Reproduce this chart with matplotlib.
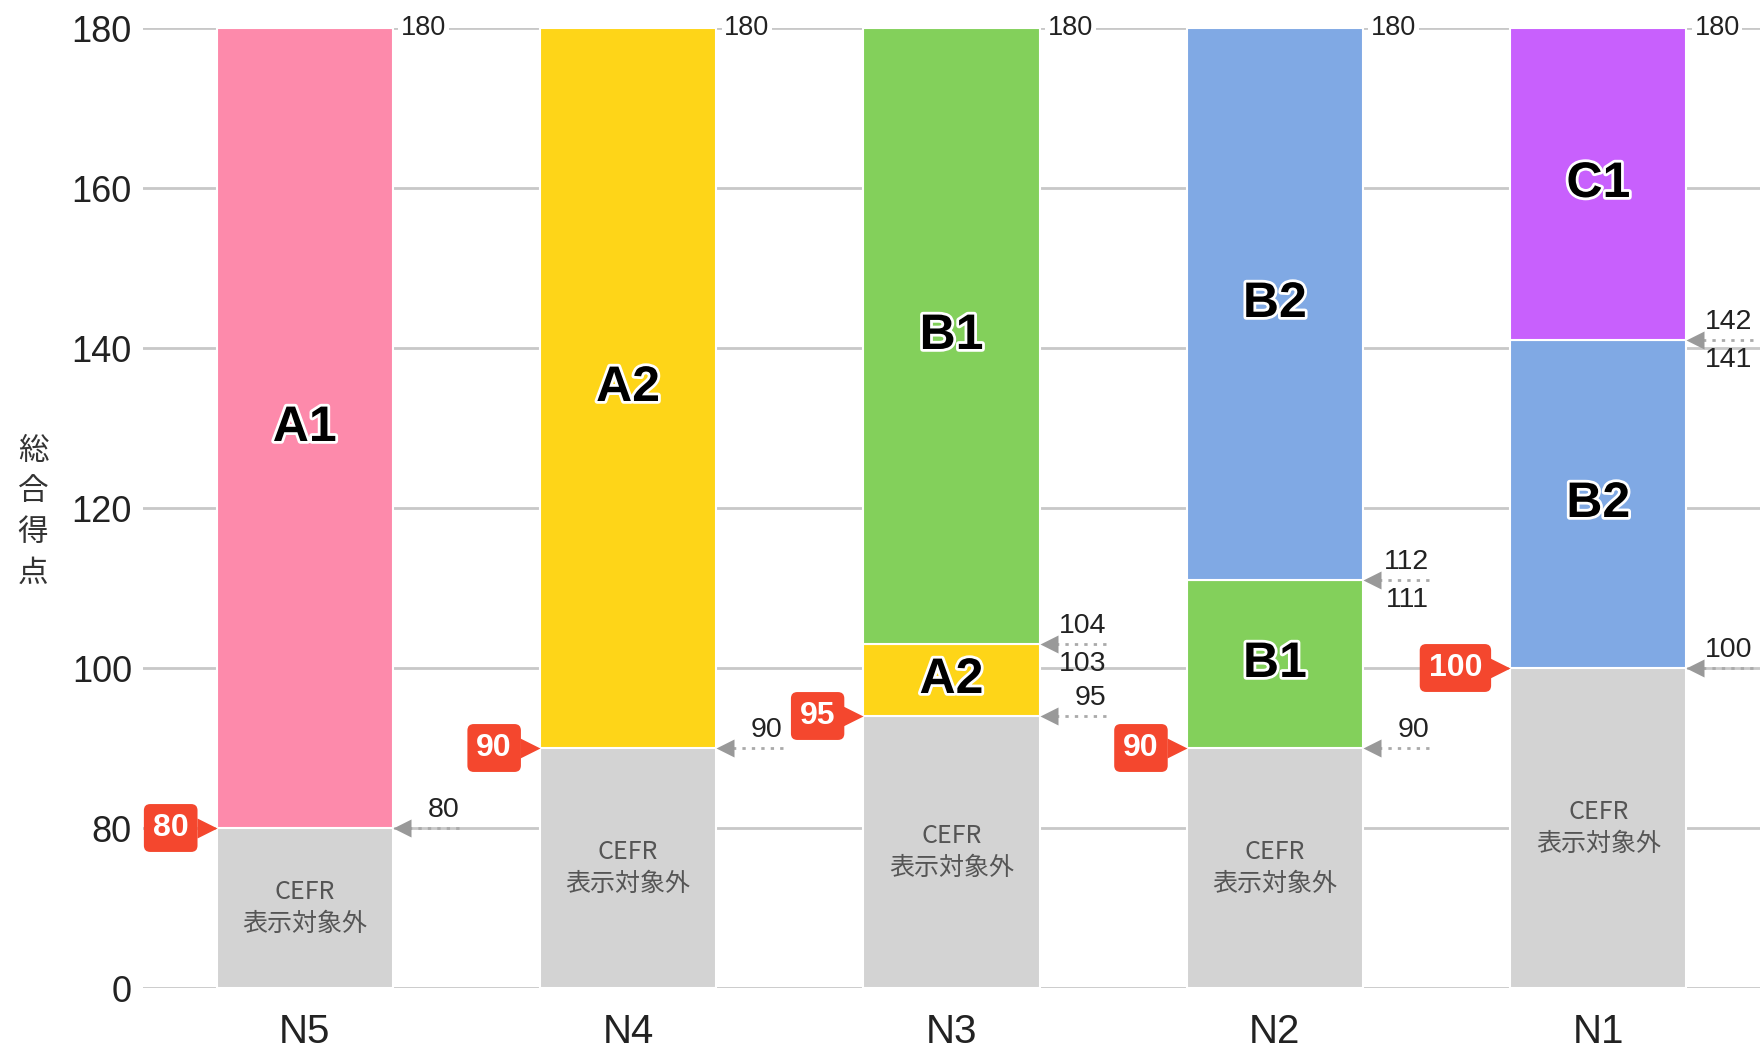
import numpy as np
import matplotlib.pyplot as plt
import matplotlib.patheffects as pe
from matplotlib.transforms import offset_copy

plt.rcParams['font.family'] = ['Liberation Sans', 'Noto Sans CJK JP', 'DejaVu Sans']

levels = ["N5", "N4", "N3", "N2", "N1"]
# segment boundaries from bottom to top for each level
bounds = [[0, 80, 180], [0, 90, 180], [0, 94, 103, 180], [0, 90, 111, 180], [0, 100, 141, 180]]
seg_names = [["", "A1"], ["", "A2"], ["", "A2", "B1"], ["", "B1", "B2"], ["", "B2", "C1"]]
pass_marks = [80, 90, 95, 90, 100]
max_score = 180
# right side markers: (boundary, text above, text below)
edge_marks = [
    [(80, "80", "")],
    [(90, "90", "")],
    [(103, "104", "103"), (94, "95", "")],
    [(111, "112", "111"), (90, "90", "")],
    [(141, "142", "141"), (100, "100", "")],
]
yticks = [0, 80, 100, 120, 140, 160, 180]

seg_colors = {"": "#d3d3d3", "A1": "#fd8aab", "A2": "#fed518", "B1": "#83d05b",
              "B2": "#80a9e4", "C1": "#c860fd"}
tag_red = "#f4472e"


# 0-80 squeezed into the height of one 20 point step
def fwd(y):
    y = np.asarray(y, dtype=float)
    return np.where(y < 80, 60 + y / 4, y)


def inv(y):
    y = np.asarray(y, dtype=float)
    return np.where(y < 80, (y - 60) * 4, y)


def mid(lo, hi):
    return float(inv((fwd(lo) + fwd(hi)) / 2))


fig = plt.figure(figsize=(17.6, 10.49), dpi=100)
ax = fig.add_axes([143 / 1760, 1 - 988 / 1049, (1760 - 143) / 1760, (988 - 28) / 1049])
ax.set_yscale('function', functions=(fwd, inv))
ax.set_xlim(-0.5, 4.5)
ax.set_ylim(0, 180)

w = 0.545
for i, (b, names) in enumerate(zip(bounds, seg_names)):
    for lo, hi, name in zip(b[:-1], b[1:], names):
        ax.bar(i, hi - lo, bottom=lo, width=w, color=seg_colors[name],
               edgecolor='white', linewidth=1.5, zorder=2)
        if name:
            ax.text(i, mid(lo, hi), name, ha='center', va='center', fontsize=36,
                    fontweight='bold', color='black', zorder=5,
                    path_effects=[pe.withStroke(linewidth=4, foreground='white')])
        else:
            ax.text(i, mid(lo, hi), "CEFR\n表示対象外", ha='center', va='center',
                    fontsize=18, color='#555555', linespacing=1.3,
                    family=['Noto Sans CJK JP', 'DejaVu Sans'], zorder=5)

    xr = i + w / 2
    xl = i - w / 2
    # max score label on top right
    ax.text(xr + 0.025, max_score, str(max_score), ha='left', va='center', fontsize=19.5,
            color='#222222', zorder=4,
            bbox=dict(boxstyle='square,pad=0.1', fc='white', ec='none'))

    # dotted arrows on the right side
    for yv, up, down in edge_marks[i]:
        ax.plot([xr + 0.02, xr + 0.21], [yv, yv], ls=(0, (1.2, 2.2)), lw=2,
                color='#aaaaaa', zorder=3, clip_on=False)
        ax.plot(xr, yv, marker='<', ms=13, color='#999999', mec='none', zorder=3,
                clip_on=False, transform=offset_copy(ax.transData, fig, x=9, units='dots'))
        if up:
            ax.annotate(up, xy=(xr + 0.205, yv), xytext=(0, 5), textcoords='offset pixels',
                        ha='right', va='bottom', fontsize=20.5, color='#222222', zorder=4)
        if down:
            ax.annotate(down, xy=(xr + 0.205, yv), xytext=(0, -7), textcoords='offset pixels',
                        ha='right', va='top', fontsize=20.5, color='#222222', zorder=4)

    # red pass mark tag on the left
    p = pass_marks[i]
    yb = bounds[i][1]
    ax.plot(xl, yb, marker='>', ms=14, color=tag_red, mec='none', zorder=4, clip_on=False,
            transform=offset_copy(ax.transData, fig, x=-10, units='dots'))
    ax.annotate(str(p), xy=(xl, yb), xytext=(-28, 0), textcoords='offset pixels',
                ha='right', va='center', fontsize=23, fontweight='bold', color='white', zorder=4,
                bbox=dict(boxstyle='round,pad=0.28,rounding_size=0.2', fc=tag_red, ec='none'))

ax.set_xticks(range(len(levels)))
ax.set_xticklabels(levels, fontsize=29, color='#222222')
ax.set_yticks(yticks)
ax.set_yticklabels([str(t) for t in yticks], fontsize=26, color='#222222')
ax.yaxis.set_minor_locator(plt.NullLocator())
ax.tick_params(axis='both', length=0)
ax.tick_params(axis='y', pad=8)
ax.tick_params(axis='x', pad=18)
for s in ax.spines.values():
    s.set_visible(False)
ax.set_axisbelow(True)
ax.yaxis.grid(True, color='#c8c8c8', lw=2)

fig.text(33 / 1760, 1 - 512 / 1049, "総\n合\n得\n点", ha='center', va='center',
         fontsize=22, color='#333333', linespacing=1.4,
         family=['Noto Sans CJK JP', 'DejaVu Sans'])

fig.savefig("out.png", dpi=100)
